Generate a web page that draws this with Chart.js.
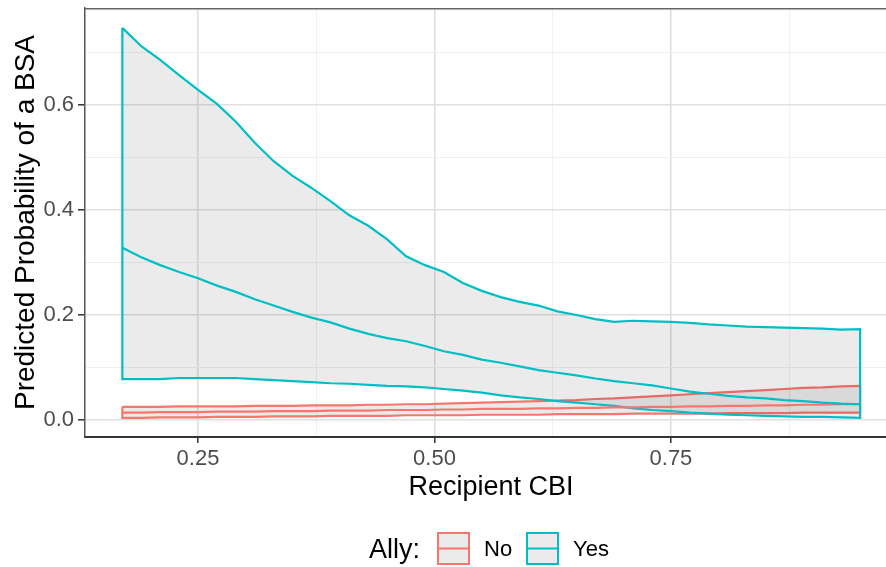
<!DOCTYPE html>
<html><head><meta charset="utf-8">
<script src="https://cdn.jsdelivr.net/npm/chart.js@4/dist/chart.umd.min.js"></script>
<style>html,body{margin:0;padding:0;background:#fff;overflow:hidden;width:886px;height:567px}canvas{display:block}</style>
</head><body>
<canvas id="c" width="900" height="567" style="width:900px;height:567px"></canvas>
<script>
// ---- data ----
const cbi = [0.17,0.19,0.21,0.23,0.25,0.27,0.29,0.31,0.33,0.35,0.37,0.39,0.41,0.43,0.45,0.47,0.49,0.51,0.53,0.55,
             0.57,0.59,0.61,0.63,0.65,0.67,0.69,0.71,0.73,0.75,0.77,0.79,0.81,0.83,0.85,0.87,0.89,0.91,0.93,0.95];
const yesUpper = [0.747,0.712,0.686,0.657,0.629,0.602,0.568,0.528,0.493,0.465,0.442,0.417,0.390,0.370,0.344,0.312,0.295,0.282,0.261,0.246,
                  0.234,0.225,0.218,0.207,0.200,0.192,0.187,0.189,0.188,0.187,0.185,0.182,0.180,0.178,0.177,0.176,0.175,0.174,0.172,0.173];
const yesFit = [0.328,0.310,0.295,0.282,0.270,0.256,0.244,0.230,0.218,0.206,0.195,0.186,0.174,0.164,0.156,0.150,0.141,0.131,0.124,0.115,
                0.109,0.102,0.095,0.090,0.085,0.079,0.074,0.070,0.066,0.060,0.054,0.050,0.046,0.043,0.041,0.038,0.036,0.033,0.031,0.030];
const yesLower = [0.078,0.078,0.078,0.080,0.080,0.080,0.080,0.078,0.076,0.074,0.072,0.070,0.069,0.067,0.065,0.064,0.062,0.059,0.056,0.052,
                  0.047,0.043,0.040,0.036,0.033,0.030,0.027,0.022,0.019,0.017,0.014,0.012,0.010,0.009,0.008,0.007,0.006,0.006,0.005,0.004];
const noUpper = [0.025,0.025,0.025,0.026,0.026,0.026,0.026,0.027,0.027,0.027,0.028,0.028,0.028,0.029,0.029,0.030,0.030,0.031,0.032,0.033,
                 0.034,0.035,0.036,0.037,0.038,0.040,0.041,0.043,0.045,0.047,0.049,0.051,0.053,0.055,0.057,0.059,0.061,0.062,0.064,0.065];
const noFit = [0.014,0.014,0.015,0.015,0.015,0.016,0.016,0.016,0.017,0.017,0.017,0.018,0.018,0.018,0.019,0.019,0.019,0.020,0.020,0.021,
               0.021,0.021,0.022,0.022,0.023,0.023,0.024,0.024,0.025,0.025,0.026,0.026,0.027,0.027,0.028,0.028,0.029,0.029,0.030,0.030];
const noLower = [0.004,0.004,0.005,0.005,0.005,0.006,0.006,0.006,0.007,0.007,0.007,0.008,0.008,0.008,0.008,0.009,0.009,0.009,0.009,0.010,
                 0.010,0.010,0.010,0.011,0.011,0.011,0.011,0.012,0.012,0.012,0.012,0.012,0.013,0.013,0.013,0.013,0.014,0.014,0.014,0.014];
const allyLevels = ['No', 'Yes'];
const xMajorTicks = [0.25, 0.50, 0.75];
const xMinorTicks = [0.375, 0.625, 0.875];
const yMajorTicks = [0.0, 0.2, 0.4, 0.6];
const yMinorTicks = [0.1, 0.3, 0.5, 0.7];

// ---- styling ----
const COL = { No: '#F8766D', Yes: '#00BFC4' };
const FILL = 'rgba(0,0,0,0.08)';
const FONT = '"Liberation Sans", Arial, Helvetica, sans-serif';

const pts = ys => cbi.map((x, i) => ({ x: x, y: ys[i] }));
const polygon = (up, lo) => { const u = pts(up); return u.concat(pts(lo).reverse(), [u[0]]); };
const isIn = (arr, v) => arr.some(a => Math.abs(a - v) < 1e-9);

const lineDs = (label, data, color, extra) => Object.assign({
  label: label, data: data, showLine: true, borderColor: color, borderWidth: 2.2,
  pointRadius: 0, pointHoverRadius: 0, tension: 0, fill: false
}, extra || {});

const datasets = [
  lineDs('Yes fit', pts(yesFit), COL.Yes),                                   // 0
  lineDs('No fit', pts(noFit), COL.No),                                      // 1
  lineDs('Yes band', polygon(yesUpper, yesLower), COL.Yes),                 // 2
  lineDs('Yes upper', pts(yesUpper), 'rgba(0,0,0,0)', { borderWidth: 0, fill: { target: 4 }, backgroundColor: FILL }), // 3
  lineDs('Yes lower', pts(yesLower), 'rgba(0,0,0,0)', { borderWidth: 0 }),  // 4
  lineDs('No band', polygon(noUpper, noLower), COL.No),                     // 5
  lineDs('No upper', pts(noUpper), 'rgba(0,0,0,0)', { borderWidth: 0, fill: { target: 7 }, backgroundColor: FILL }), // 6
  lineDs('No lower', pts(noLower), 'rgba(0,0,0,0)', { borderWidth: 0 })     // 7
];

const panelPlugin = {
  id: 'panel',
  afterDraw(chart) {
    const { ctx, chartArea: a } = chart;
    ctx.save();
    // top / right panel border
    ctx.strokeStyle = '#666'; ctx.lineWidth = 1.5;
    ctx.beginPath(); ctx.moveTo(a.left, a.top + 0.75); ctx.lineTo(a.right, a.top + 0.75); ctx.lineTo(a.right, a.bottom); ctx.stroke();
    // legend
    ctx.fillStyle = '#000'; ctx.textBaseline = 'middle'; ctx.textAlign = 'left';
    ctx.font = '27px ' + FONT;
    ctx.fillText('Ally:', 369, 551);
    const boxes = [{ x: 438, tx: 484 }, { x: 527, tx: 573 }];
    allyLevels.forEach((lv, i) => {
      const b = boxes[i];
      ctx.fillStyle = '#ebebeb';
      ctx.fillRect(b.x, 533, 31, 31);
      ctx.strokeStyle = COL[lv]; ctx.lineWidth = 2;
      ctx.strokeRect(b.x, 533, 31, 31);
      ctx.beginPath(); ctx.moveTo(b.x, 548.5); ctx.lineTo(b.x + 31, 548.5); ctx.stroke();
      ctx.fillStyle = '#000'; ctx.font = '22px ' + FONT;
      ctx.fillText(lv, b.tx, 550);
    });
    ctx.restore();
  }
};

const gridColor = (majors) => c => (c.tick && isIn(majors, c.tick.value)) ? '#e0e0e0' : '#f0f0f0';
const gridWidth = (majors) => c => (c.tick && isIn(majors, c.tick.value)) ? 1.6 : 1;
const tickColor = (majors) => c => (c.tick && isIn(majors, c.tick.value)) ? '#333' : 'rgba(0,0,0,0)';

new Chart(document.getElementById('c'), {
  type: 'scatter',
  data: { datasets: datasets },
  plugins: [panelPlugin],
  options: {
    responsive: false, animation: false, devicePixelRatio: 1,
    layout: { padding: { top: 8, right: 3, left: 0, bottom: 0 } },
    plugins: { legend: { display: false }, tooltip: { enabled: false } },
    scales: {
      x: {
        type: 'linear', min: 0.1305, max: 0.989,
        afterBuildTicks: s => { s.ticks = xMajorTicks.concat(xMinorTicks).sort((a, b) => a - b).map(v => ({ value: v })); },
        afterFit: s => { s.height = 130; s.paddingLeft = 0; s.paddingRight = 0; },
        ticks: { autoSkip: false, maxRotation: 0, padding: 3, color: '#4d4d4d', font: { family: FONT, size: 22 },
                 callback: v => isIn(xMajorTicks, v) ? v.toFixed(2) : '' },
        grid: { color: gridColor(xMajorTicks), lineWidth: gridWidth(xMajorTicks), tickColor: tickColor(xMajorTicks), tickLength: 6, tickWidth: 1.5 },
        border: { color: '#333', width: 2 },
        title: { display: true, text: 'Recipient CBI', color: '#000', font: { family: FONT, size: 27 }, padding: { top: 0, bottom: 63 } }
      },
      y: {
        type: 'linear', min: -0.0324, max: 0.7848,
        afterBuildTicks: s => { s.ticks = yMajorTicks.concat(yMinorTicks).sort((a, b) => a - b).map(v => ({ value: v })); },
        afterFit: s => { s.width = 85; s.paddingTop = 0; s.paddingBottom = 0; },
        ticks: { autoSkip: false, padding: 4, color: '#4d4d4d', font: { family: FONT, size: 22 },
                 callback: v => isIn(yMajorTicks, v) ? v.toFixed(1) : '' },
        grid: { color: gridColor(yMajorTicks), lineWidth: gridWidth(yMajorTicks), tickColor: tickColor(yMajorTicks), tickLength: 7, tickWidth: 1.5 },
        border: { color: '#555', width: 1.5 },
        title: { display: true, text: 'Predicted Probability of a BSA', color: '#000', font: { family: FONT, size: 28 }, padding: { top: 9, bottom: 0 } }
      }
    }
  }
});
</script>
</body></html>
